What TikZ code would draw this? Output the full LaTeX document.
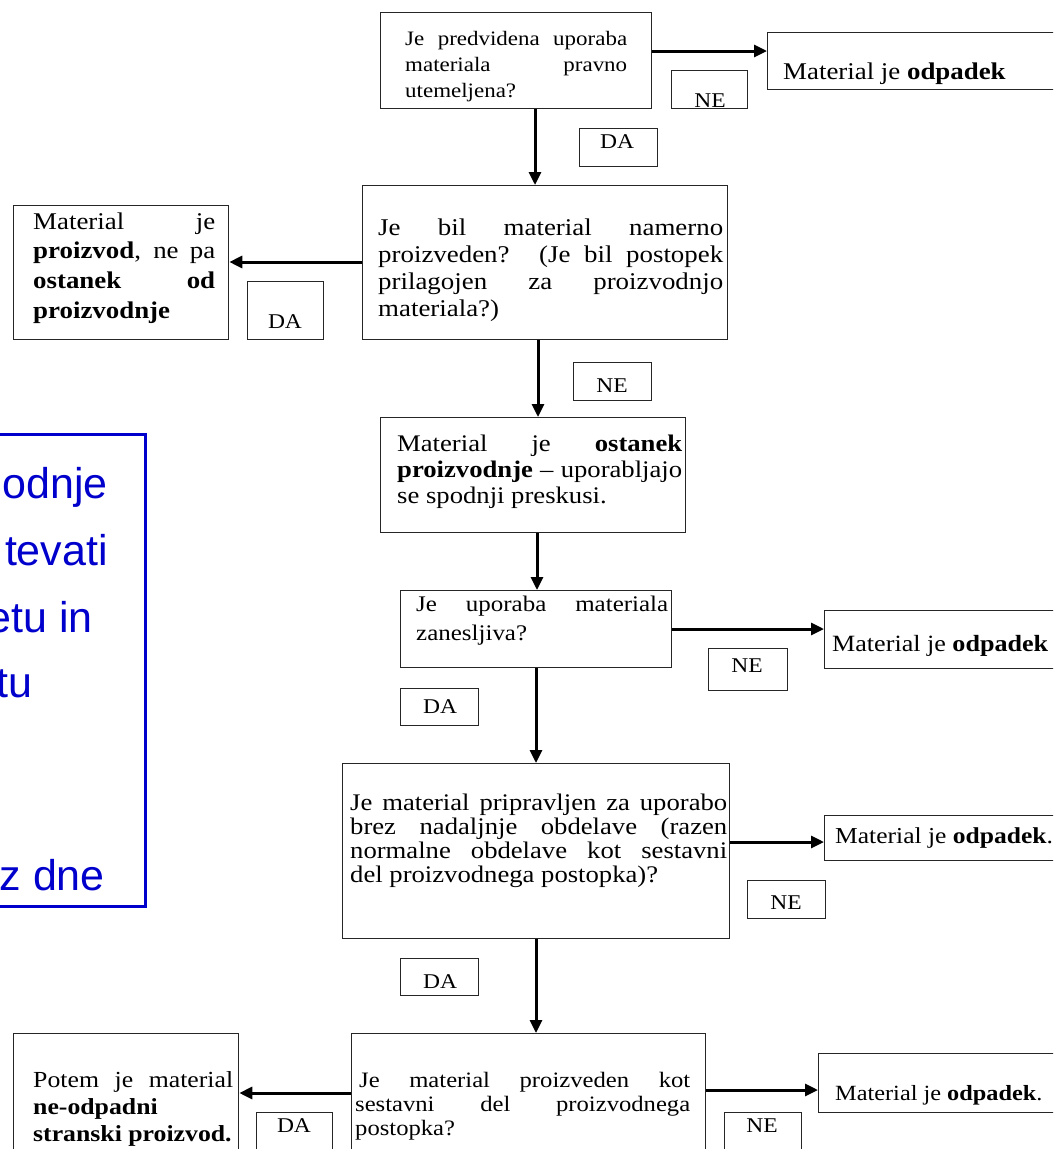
\documentclass[tikz,border=0pt]{standalone}
\usepackage{fontspec}
\setmainfont{Liberation Serif}[FakeStretch=1.12]
\newfontfamily\bluef{Liberation Sans}
\usetikzlibrary{arrows.meta}
\definecolor{pblue}{RGB}{0,0,204}
\newlength\myrh
\newcommand\jline[1]{\hbox to\hsize{\rule{0pt}{\myrh}#1}}
\newcommand\lastl[1]{\hbox{\rule{0pt}{\myrh}#1}}
\newcommand\bx[5]{\node[box, minimum width={(#4-#2)*1pt}, minimum height={(#5-#3)*1pt}] (#1) at (#2,#3) {};}
\newcommand\tx[7]{\node[inner sep=0pt, anchor=north west] (#1) at (#2,{#3-0.75*#4}) {\fontsize{#4}{#5}\selectfont\myrh=\dimexpr#4pt*3/4\relax\vbox{\hsize=#6pt\relax #7}};}
\newcommand\lb[8]{\bx{#1}{#2}{#3}{#4}{#5}\node[lbltxt, anchor=base] (#1t) at (#7,#8) {#6};}
\tikzset{
  box/.style={draw=black!85, line width=1.3pt, inner sep=0pt, anchor=north west, fill=white},
  arr/.style={line width=3pt, -{Triangle[length=13pt,width=12pt]}},
  lbltxt/.style={inner sep=0pt, font=\fontsize{21}{21}\selectfont},
  bluetxt/.style={inner sep=0pt, text=pblue, font=\bluef\fontsize{43}{43}\selectfont},
}
\begin{document}
\begin{tikzpicture}[x=1pt,y=-1pt]
\useasboundingbox (0,0) rectangle (1053,1149);
\fill[white] (0,0) rectangle (1053,1149);
\clip (0,0) rectangle (1053,1149);

% blue overlay box
\node[draw=pblue, line width=3pt, inner sep=0pt, anchor=north west, minimum width=164pt, minimum height=472pt] (bb) at (-20,433) {};
\node[bluetxt, anchor=base east] (q1) at (108,498) {odnje};
\node[bluetxt, anchor=base east] (q2) at (108,565) {tevati};
\node[bluetxt, anchor=base east] (q3) at (93,632) {etu in};
\node[bluetxt, anchor=base east] (q4) at (33,697) {tu};
\node[bluetxt, anchor=base east] (q5) at (105,890) {z dne};

% row 1
\bx{b1}{380}{12}{651}{108}
\tx{b1t}{405}{45}{20.5}{26}{222}{\jline{Je predvidena uporaba}\jline{materiala pravno}\lastl{utemeljena?}}
\bx{r1}{767}{32}{1075}{89}
\tx{r1t}{783}{79}{24}{26}{260}{\lastl{Material je \textbf{odpadek}}}
\lb{n1}{671}{70}{747}{108}{NE}{710}{107}
\lb{d1}{579}{128}{657}{166}{DA}{617}{148}

% row 2
\bx{b2}{362}{185}{727}{339}
\tx{b2t}{378}{235}{24}{27}{345}{\jline{Je bil material namerno}\jline{proizveden? (Je bil postopek}\jline{prilagojen za proizvodnjo}\lastl{materiala?)}}
\bx{p1}{13}{205}{228}{339}
\tx{p1t}{33}{229}{24}{29.7}{182}{\jline{Material je}\jline{\textbf{proizvod}, ne pa}\jline{\textbf{ostanek od}}\lastl{\textbf{proizvodnje}}}
\lb{d2}{247}{281}{323}{339}{DA}{285}{328}
\lb{n2}{573}{362}{651}{400}{NE}{612}{392}

% row 3
\bx{b3}{380}{417}{685}{532}
\tx{b3t}{397}{451}{23.8}{26}{285}{\jline{Material je \textbf{ostanek}}\jline{\textbf{proizvodnje} -- uporabljajo}\lastl{se spodnji preskusi.}}

% row 4
\bx{b4}{400}{590}{671}{667}
\tx{b4t}{416}{611}{22.3}{29}{252}{\jline{Je uporaba materiala}\lastl{zanesljiva?}}
\bx{r4}{824}{610}{1075}{668}
\tx{r4t}{832}{651}{23.3}{26}{240}{\lastl{Material je \textbf{odpadek}}}
\lb{n4}{708}{648}{787}{690}{NE}{747}{672}
\lb{d4}{400}{688}{478}{725}{DA}{440}{713}

% row 5
\bx{b5}{342}{763}{729}{938}
\tx{b5t}{350}{810}{23.8}{24}{377}{\jline{Je material pripravljen za uporabo}\jline{brez nadaljnje obdelave (razen}\jline{normalne obdelave kot sestavni}\lastl{del proizvodnega postopka)?}}
\bx{r5}{824}{815}{1075}{860}
\tx{r5t}{835}{843}{22.8}{24}{240}{\lastl{Material je \textbf{odpadek}.}}
\lb{n5}{747}{880}{825}{918}{NE}{786}{909}
\lb{d5}{400}{958}{478}{995}{DA}{440}{988}

% row 6
\bx{b6}{351}{1033}{705}{1180}
\tx{b6t}{355}{1087}{22}{24}{335}{\jline{\hspace{4pt}Je material proizveden kot}\jline{sestavni del proizvodnega}\lastl{postopka?}}
\bx{p6}{13}{1033}{238}{1180}
\tx{p6t}{33}{1087}{23}{27}{200}{\jline{Potem je material}\lastl{\textbf{ne-odpadni}}\lastl{\textbf{stranski proizvod.}}}
\lb{d6}{256}{1112}{332}{1180}{DA}{294}{1132}
\bx{r6}{818}{1053}{1075}{1112}
\tx{r6t}{835}{1100}{21.7}{24}{240}{\lastl{Material je \textbf{odpadek}.}}
\lb{n6}{724}{1112}{801}{1180}{NE}{762}{1132}

% connectors
\coordinate (a1) at (0,51);
\draw[arr] (b1.east |- a1) -- (r1.west |- a1);
\coordinate (v1) at (535,0);
\draw[arr] (b1.south -| v1) -- (b2.north -| v1);
\coordinate (a2) at (0,262);
\draw[arr] (b2.west |- a2) -- (p1.east |- a2);
\coordinate (v2) at (538,0);
\draw[arr] (b2.south -| v2) -- (b3.north -| v2);
\coordinate (v3) at (537,0);
\draw[arr] (b3.south -| v3) -- (b4.north -| v3);
\coordinate (a4) at (0,629);
\draw[arr] (b4.east |- a4) -- (r4.west |- a4);
\coordinate (v4) at (536,0);
\draw[arr] (b4.south -| v4) -- (b5.north -| v4);
\coordinate (a5) at (0,842);
\draw[arr] (b5.east |- a5) -- (r5.west |- a5);
\coordinate (v5) at (536,0);
\draw[arr] (b5.south -| v5) -- (b6.north -| v5);
\coordinate (a6) at (0,1093);
\draw[arr] (b6.west |- a6) -- (p6.east |- a6);
\coordinate (a7) at (0,1090);
\draw[arr] (b6.east |- a7) -- (r6.west |- a7);
\end{tikzpicture}
\end{document}
